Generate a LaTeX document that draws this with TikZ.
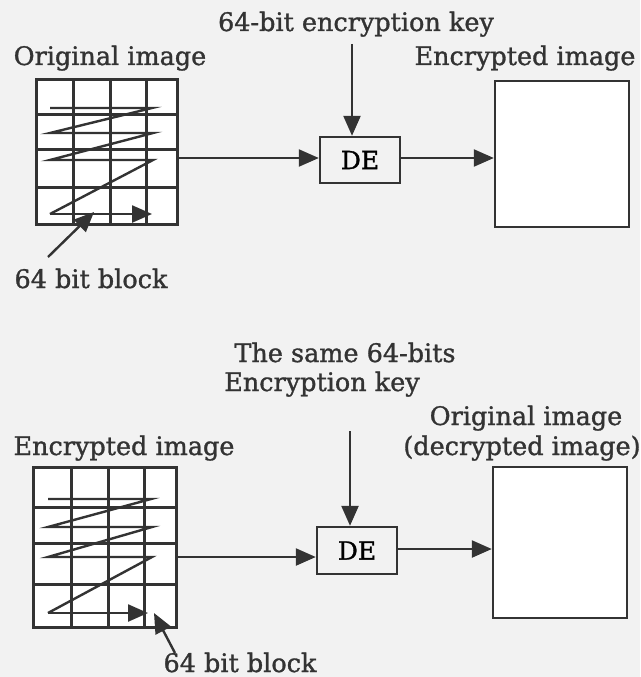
\documentclass[tikz,border=0pt]{standalone}
\usepackage{fontspec}
\setmainfont{DejaVu Serif}
\newfontfamily\lblfont[FakeBold=1.2]{DejaVu Serif}
\usetikzlibrary{arrows.meta}
\definecolor{ink}{HTML}{333333}
\definecolor{paper}{HTML}{F2F2F2}
\tikzset{
  arr/.style={draw=ink, line width=2.4pt, -{Triangle[length=20pt,width=17pt]}},
  gridbox/.style={draw=ink, line width=3pt, fill=white, inner sep=0pt},
  gline/.style={draw=ink, line width=3pt},
  zig/.style={draw=ink, line width=2.4pt, line join=miter},
  debox/.style={draw=ink, line width=2.4pt, fill=paper, inner sep=0pt, minimum width=80pt, font=\lblfont\fontsize{25}{28}\selectfont},
  outbox/.style={draw=ink, line width=2.4pt, fill=white, inner sep=0pt},
  lbl/.style={text=ink, inner sep=0pt, anchor=base, font=\lblfont\fontsize{25.5}{30}\selectfont},
}
\begin{document}
\begin{tikzpicture}[x=1pt, y=-1pt]
\fill[paper] (0,0) rectangle (640,677);
\useasboundingbox (0,0) rectangle (640,677);

% ---------------- top row ----------------
\node[lbl] (t1) at (356,31) {64-bit encryption key};
\node[lbl] (l1) at (110,65) {Original image};
\node[lbl] (r1) at (525,65) {Encrypted image};
\node[lbl] (b1) at (91,288) {64 bit block};

\node[gridbox, minimum width=141pt, minimum height=145pt] (g1) at (106.5,151.5) {};
\foreach \x in {73,110,146} \draw[gline] (\x,79) -- (\x,224);
\foreach \y in {114,149,187} \draw[gline] (36,\y) -- (177,\y);
\draw[zig] (50,108) -- (152,108) -- (50,133) -- (153,133) -- (50,160) -- (153,160) -- (50,214);
\draw[arr] (50,214) -- (152,214);

\node[debox, minimum height=46pt] (de1) at (360,160) {DE};
\node[outbox, minimum width=134pt, minimum height=146pt] (o1) at (562,154) {};

\coordinate (k1) at (352,44);
\draw[arr] (k1) -- (k1 |- de1.north);
\coordinate (in1) at (177,158);
\draw[arr] (in1) -- (in1 -| de1.west);
\coordinate (ou1) at (400,158);
\draw[arr] (ou1) -- (ou1 -| o1.west);
\coordinate (bb1) at (48,257);
\coordinate (bt1) at (94,212);
\draw[arr] (bb1) -- (bt1);

% ---------------- bottom row ----------------
\node[lbl] (t2) at (345,362) {The same 64-bits};
\node[lbl] (t3) at (322,391) {Encryption key};
\node[lbl] (r2) at (526,425) {Original image};
\node[lbl] (r3) at (522,455) {(decrypted image)};
\node[lbl] (l2) at (124,455) {Encrypted image};
\node[lbl] (b2) at (240,672) {64 bit block};

\node[gridbox, minimum width=143pt, minimum height=160pt] (g2) at (104.5,547) {};
\foreach \x in {71,108,144} \draw[gline] (\x,467) -- (\x,627);
\foreach \y in {507,543,584} \draw[gline] (33,\y) -- (176,\y);
\draw[zig] (48,499) -- (151,499) -- (48,527) -- (152,527) -- (48,557) -- (152,557) -- (48,613);
\draw[arr] (48,613) -- (148,613);

\node[debox, minimum height=47pt] (de2) at (357,550.5) {DE};
\node[outbox, minimum width=134pt, minimum height=151pt] (o2) at (560,542.5) {};

\coordinate (k2) at (350,431);
\draw[arr] (k2) -- (k2 |- de2.north);
\coordinate (in2) at (176,557);
\draw[arr] (in2) -- (in2 -| de2.west);
\coordinate (ou2) at (397,549);
\draw[arr] (ou2) -- (ou2 -| o2.west);
\coordinate (bb2) at (175,653);
\coordinate (bt2) at (154,613);
\draw[arr] (bb2) -- (bt2);
\end{tikzpicture}
\end{document}
